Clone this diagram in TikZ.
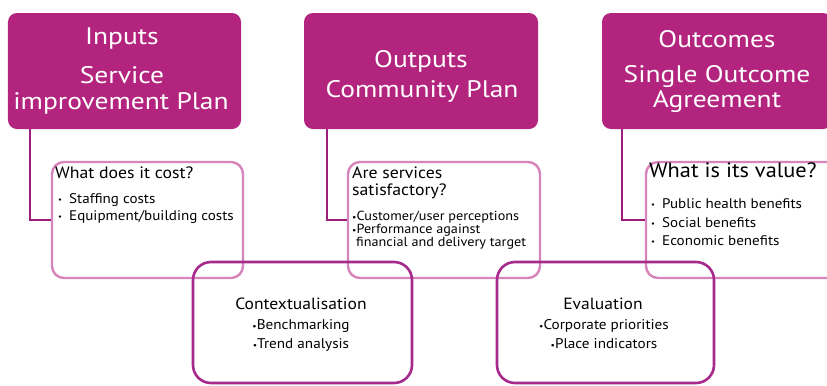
\documentclass[tikz,border=0pt]{standalone}
\usepackage{fontspec}
\setmainfont[FakeStretch=1.08]{PT Sans}
\newfontfamily\widefont[FakeStretch=1.15]{PT Sans}
\definecolor{mag}{HTML}{B3247F}
\definecolor{conn}{HTML}{9C1E78}
\definecolor{lightpk}{HTML}{D684BC}
\definecolor{darkpk}{HTML}{A62A8C}
\newcommand\bl{\makebox[11bp][l]{\raisebox{0.1ex}{\fontsize{8}{8}\selectfont\textbullet}}}
\newcommand\tb{{\fontsize{9}{9}\selectfont\textbullet}}
\tikzset{
  topbox/.style={fill=mag, draw=none, rounded corners=9bp, inner sep=0pt},
  toptext/.style={anchor=base, text=white, font=\widefont\fontsize{24}{28}\selectfont, inner sep=0pt},
  qbox/.style={draw=lightpk, line width=2.4bp, rounded corners=12bp, inner sep=0pt},
  dbox/.style={draw=darkpk, line width=2.6bp, rounded corners=18bp, inner sep=0pt},
  connector/.style={draw=conn, line width=2.6bp},
  qtitle/.style={anchor=base west, font=\fontsize{16.5}{19}\selectfont, inner sep=0pt},
  qbig/.style={anchor=base west, font=\fontsize{20.8}{24}\selectfont, inner sep=0pt},
  qbul/.style={anchor=base west, font=\fontsize{14}{16}\selectfont, inner sep=0pt},
  qsmall/.style={anchor=base west, font=\fontsize{13.2}{15}\selectfont, inner sep=0pt},
  btitle/.style={anchor=base, font=\fontsize{16.3}{19}\selectfont, inner sep=0pt},
  bsub/.style={anchor=base, font=\fontsize{14.1}{16}\selectfont, inner sep=0pt},
}
\begin{document}
\begin{tikzpicture}[x=1bp,y=-1bp]
\useasboundingbox (0,0) rectangle (827,385);
\clip (0,0) rectangle (827,385);
\fill[white] (0,0) rectangle (827,385);

% top boxes
\node[topbox, minimum width=233bp, minimum height=116bp] (in) at (124.5,71) {};
\node[topbox, minimum width=234bp, minimum height=116bp] (out) at (421,71) {};
\node[topbox, minimum width=230bp, minimum height=116bp] (oc) at (717,71) {};

\node[toptext] (in1) at (122,44) {Inputs};
\node[toptext] (in2) at (122,83) {Service};
\node[toptext] (in3) at (121,109) {improvement Plan};
\node[toptext] (out1) at (421,67) {Outputs};
\node[toptext] (out2) at (422,97) {Community Plan};
\node[toptext] (oc1) at (717,47) {Outcomes};
\node[toptext] (oc2) at (717,82) {Single Outcome};
\node[toptext] (oc3) at (717,107) {Agreement};

% question boxes
\node[qbox, minimum width=191bp, minimum height=116bp] (A) at (147.5,220) {};
\node[qbox, minimum width=192bp, minimum height=116bp] (B) at (444,220) {};
\node[qbox, minimum width=194bp, minimum height=116bp] (C) at (743,220) {};

% connectors
\draw[connector] ([xshift=22bp]in.south west) |- (A.west);
\draw[connector] ([xshift=23bp]out.south west) |- (B.west);
\draw[connector] ([xshift=20bp]oc.south west) |- (C.west);

% bottom boxes
\node[dbox, minimum width=219bp, minimum height=121bp] (D) at (302.5,322.5) {};
\node[dbox, minimum width=217bp, minimum height=121bp] (E) at (605.5,322.5) {};

% texts
\node[qtitle] (aq) at (55,178) {What does it cost?};
\node[qbul] (a1) at (58,203) {\bl Staffing costs};
\node[qbul] (a2) at (58,220) {\bl Equipment/building costs};

\node[qtitle] (bq1) at (352,178) {Are services};
\node[qtitle] (bq2) at (352,195) {satisfactory?};
\node[qsmall] (b1) at (352,220) {\tb Customer/user perceptions};
\node[qsmall] (b2) at (352,233) {\tb Performance against};
\node[qsmall] (b3) at (356,246) {financial and delivery target};

\node[qbig] (cq) at (649,177) {What is its value?};
\node[qbul] (c1) at (651,208) {\bl Public health benefits};
\node[qbul] (c2) at (651,227) {\bl Social benefits};
\node[qbul] (c3) at (651,245) {\bl Economic benefits};

\node[btitle] (dt) at (301,309) {Contextualisation};
\node[bsub] (d1) at (301,329) {\tb Benchmarking};
\node[bsub] (d2) at (301,348) {\tb Trend analysis};

\node[btitle] (et) at (603,309) {Evaluation};
\node[bsub] (e1) at (604,329) {\tb Corporate priorities};
\node[bsub] (e2) at (604,348) {\tb Place indicators};
\end{tikzpicture}
\end{document}
